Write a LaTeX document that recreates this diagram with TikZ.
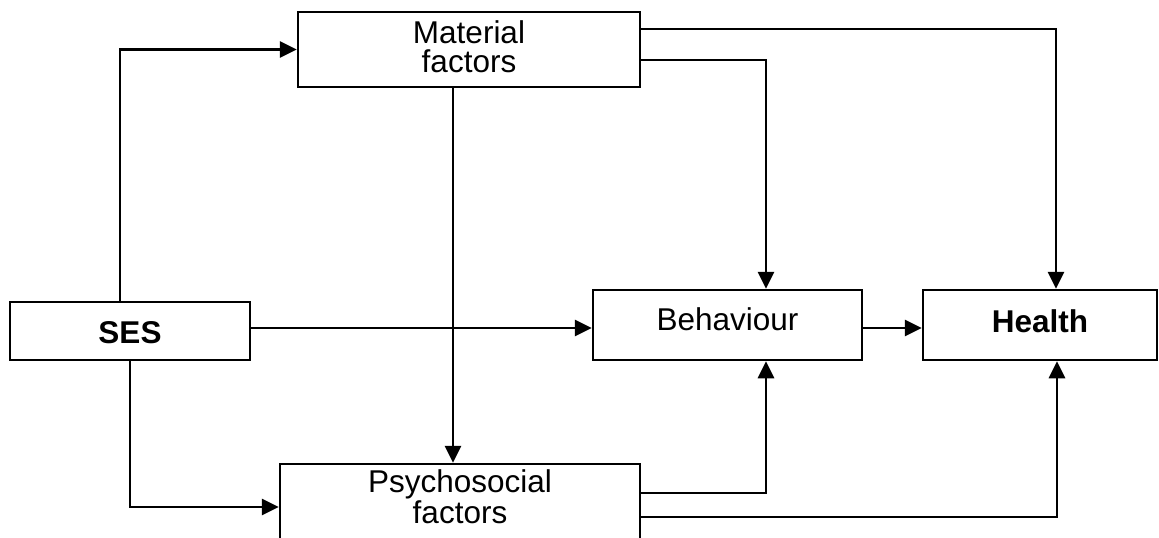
\documentclass[tikz,border=0pt]{standalone}
\usepackage{fontspec}
\setmainfont{Liberation Sans}
\usetikzlibrary{arrows.meta}
\tikzset{
  box/.style={draw, line width=2.5pt, inner sep=0pt, align=center,
    font=\fontsize{31.5}{29}\selectfont},
  conn/.style={line width=2.8pt},
  arr/.style={conn, -{Triangle[length=17pt,width=16pt]}},
}
\begin{document}
\begin{tikzpicture}[x=1pt,y=-1pt]
\useasboundingbox (0,0) rectangle (1159,538);
\clip (0,0) rectangle (1159,538);
\node[box, minimum width=342pt, minimum height=75pt, text height=52pt, text depth=7pt] (mat) at (469,49.5) {Material\\factors};
\node[box, minimum width=240pt, minimum height=58pt, text height=24pt, text depth=0pt, font=\fontsize{31.5}{29}\selectfont\bfseries] (ses) at (130,331) {SES};
\node[box, minimum width=269pt, minimum height=70pt, text height=22pt, text depth=12pt] (beh) at (727.5,325) {Behaviour};
\node[box, minimum width=234pt, minimum height=70pt, text height=24pt, text depth=10pt, font=\fontsize{31.5}{29}\selectfont\bfseries] (hea) at (1040,325) {Health};
\node[box, minimum width=360pt, minimum height=86pt, text height=52pt, text depth=20pt] (psy) at (460,507) {Psychosocial\\factors};
% SES connectors
\draw[arr] ([xshift=-10pt]ses.north) |- (mat.west);
\draw[arr] ([yshift=3pt]ses.east) -- ([yshift=3pt]ses.east -| beh.west);
\draw[arr] (ses.south) |- (psy.west);
% Material connectors
\draw[arr] ([xshift=-16pt]mat.south) -- ([xshift=-16pt]mat.south |- psy.north);
\draw[arr] ([yshift=20.5pt]mat.east) -| ([xshift=16pt]hea.north);
\draw[arr] ([yshift=-10.5pt]mat.east) -| ([xshift=38.5pt]beh.north);
% Behaviour to Health
\draw[arr] ([yshift=-3pt]beh.east) -- ([yshift=-3pt]beh.east -| hea.west);
% Psychosocial connectors
\draw[arr] ([yshift=14pt]psy.east) -| ([xshift=38.5pt]beh.south);
\draw[arr] ([yshift=-10pt]psy.east) -| ([xshift=17pt]hea.south);
\end{tikzpicture}
\end{document}
